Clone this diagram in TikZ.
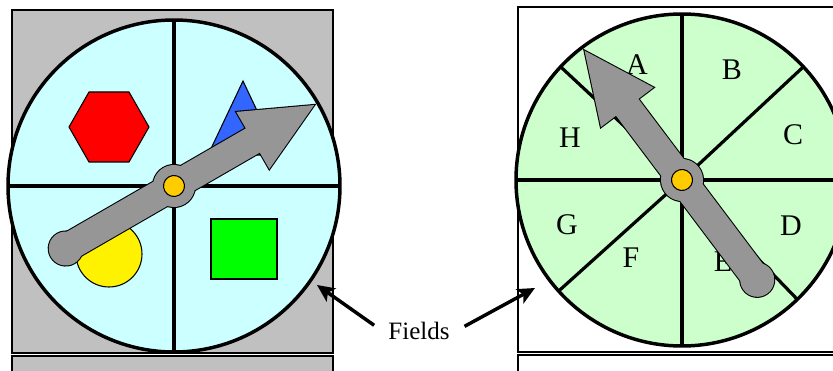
\documentclass[tikz,border=0pt]{standalone}
\usepackage{fontspec}
\setmainfont{Liberation Serif}
\usetikzlibrary{arrows.meta}

\definecolor{cardgray}{RGB}{192,192,192}
\definecolor{leftfield}{RGB}{204,255,255}
\definecolor{rightfield}{RGB}{204,255,204}
\definecolor{pointergray}{RGB}{150,150,150}
\definecolor{hubyellow}{RGB}{255,204,0}
\definecolor{triblue}{RGB}{51,102,255}

\begin{document}
\begin{tikzpicture}[x=0.75pt, y=0.75pt,
    spoke/.style={line width=2.4pt},
    rim/.style={line width=2.6pt},
    card/.style={line width=1.5pt},
    shapeline/.style={line width=0.8pt},
    ptroutline/.style={fill=pointergray, draw, line width=1.6pt},
    ptrbody/.style={fill=pointergray},
    letter/.style={font=\fontsize{22.5}{26}\selectfont, inner sep=0pt},
    fieldarrow/.style={line width=2.6pt, -{Stealth[length=13pt,width=12pt,inset=3pt]}}]

    \useasboundingbox (0,0) rectangle (833,371);

    % left spinner: grey card, four fields with shapes
    \filldraw[fill=cardgray, card] (12,18) rectangle (333,361);
    \filldraw[fill=cardgray, card] (12,-20) rectangle (333,15);
    \fill[leftfield] (174,185) circle (166);
    \filldraw[fill=red, shapeline] (69,244) -- (89,279) -- (129,279) -- (149,244) -- (129,209) -- (89,209) -- cycle;
    \filldraw[fill=triblue, shapeline] (208,216) -- (243,290) -- (278,216) -- cycle;
    \filldraw[fill=yellow, shapeline] (109,117) circle (33);
    \filldraw[fill=green, shapeline] (211,92) rectangle (277,152);
    \foreach \a in {0,90,180,270} \draw[spoke] (174,185) -- ++(\a:166);
    \draw[rim] (174,185) circle (166);

    % right spinner: white card, eight lettered fields
    \filldraw[fill=white, card] (518,19) rectangle (860,364);
    \filldraw[fill=white, card] (518,-20) rectangle (860,16);
    \fill[rightfield] (682,191) circle (166);
    \foreach \a in {0,43,90,137,180,222,270,314} \draw[spoke] (682,191) -- ++(\a:166);
    \draw[rim] (682,191) circle (166);
    \foreach \l/\x/\y in {A/637/306, B/732/301, C/793/236, D/791/145,
                          E/723/109, F/631/113, G/567/146, H/570/233}
        \node[letter] (field\l) at (\x,\y) {\l};

    % pointers with hub
    \foreach \cx/\cy/\ang in {174/185/30, 682/191/127} {
        \begin{scope}[shift={(\cx,\cy)}, rotate=\ang]
            \foreach \pass in {ptroutline, ptrbody} {
                \path[\pass] (-125,0) circle (17);
                \path[\pass] (-125,-14) rectangle (92,14);
                \path[\pass] (91,33) -- (162,0) -- (91,-33) -- cycle;
                \path[\pass] (0,0) circle (21);
            }
            \filldraw[fill=hubyellow, shapeline] (0,0) circle (10.5);
        \end{scope}
    }

    % label with arrows to both spinners
    \node[font=\fontsize{18.75}{22}\selectfont, inner sep=4pt, anchor=base] (fields) at (419,31) {Fields};
    \coordinate (lefttip) at (317,86);
    \coordinate (righttip) at (535,83);
    \draw[fieldarrow, shorten <=8pt] (fields.west) -- (lefttip);
    \draw[fieldarrow, shorten <=8pt] (fields.east) -- (righttip);
\end{tikzpicture}
\end{document}
